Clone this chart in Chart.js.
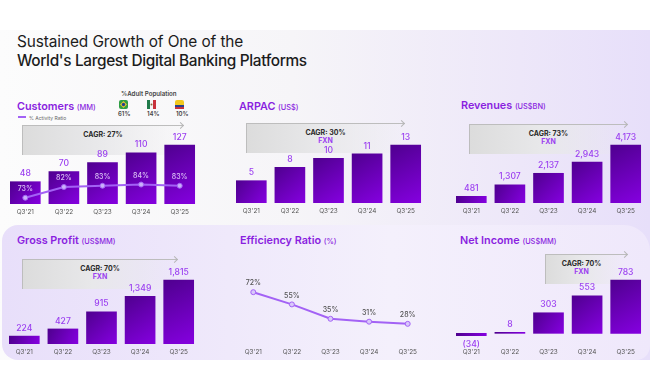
<!DOCTYPE html>
<html>
<head>
<meta charset="utf-8">
<script src="https://cdn.jsdelivr.net/npm/chart.js@4"></script>
<style>
  html, body { margin: 0; padding: 0; background: #fff; }
  #page { position: relative; width: 650px; height: 390px; overflow: hidden; font-family: Inter, sans-serif; }
  #page > * { position: absolute; }
  #band { left: 0; top: 30px; width: 650px; height: 330px; background: linear-gradient(90deg, #fcfcfc 0%, #f6f5f8 45%, #ede7f9 80%, #e7dffa 100%); }
  #panel { left: 2px; top: 225px; width: 648px; height: 135px; border-radius: 16px 26px 14px 16px; background: linear-gradient(90deg, #e8dffa 0%, #efe9fb 35%, #f4f0fc 60%, #efe8fb 100%); }
  .head { color: #1c1c1c; font-size: 15.4px; line-height: 19px; white-space: nowrap; letter-spacing: -0.1px; }
  .name { color: #8a1fe0; font-size: 10.8px; font-weight: 600; white-space: nowrap; line-height: 14px; }
  .name small { font-size: 7.4px; font-weight: 500; }
  .cagr { border-left: 1px solid #bdbdbd; border-top: 1px solid #bdbdbd; background: linear-gradient(90deg, #dcdcdc 0%, #e8e8ea 45%, rgba(240,240,244,0) 100%); box-sizing: border-box; }
  .cagr::after { content: ""; position: absolute; right: 0; top: -3px; width: 4px; height: 4px; border-top: 1px solid #b5b5b5; border-right: 1px solid #b5b5b5; transform: rotate(45deg); }
  .cagr div { position: absolute; left: 0; right: 0; text-align: center; font-size: 7px; line-height: 8px; font-weight: 700; color: #2b2b2b; }
  .cagr div + div { color: #9b3ff0; }
  .small { font-size: 6px; line-height: 8px; color: #444; white-space: nowrap; font-weight: 600; }
  canvas { position: absolute; }
</style>
</head>
<body>
<div id="page">
  <div id="band"></div>
  <div id="panel"></div>

  <div class="head" style="left:17px;top:32px">Sustained Growth of One of the</div>
  <div class="head" style="left:17px;top:51px;font-weight:500;letter-spacing:-0.35px">World's Largest Digital Banking Platforms</div>

  <div class="name" style="left:17px;top:100px">Customers <small>(MM)</small></div>
  <div class="name" style="left:239px;top:100px">ARPAC <small>(US$)</small></div>
  <div class="name" style="left:461px;top:99px">Revenues <small>(US$BN)</small></div>
  <div class="name" style="left:17px;top:234px">Gross Profit <small>(US$MM)</small></div>
  <div class="name" style="left:240px;top:234px">Efficiency Ratio <small>(%)</small></div>
  <div class="name" style="left:460px;top:234px">Net Income <small>(US$MM)</small></div>

  <div style="left:18px;top:116px;width:8px;height:2px;background:#a362f5"></div>
  <div class="small" style="left:29px;top:114px;font-size:5px;font-weight:400;color:#666">% Activity Ratio</div>

  <div class="small" style="left:121px;top:90px;font-size:6.2px">%Adult Population</div>
  <svg style="left:119px;top:100px" width="9" height="9" viewBox="0 0 9 9"><rect width="9" height="9" rx="2" fill="#2f9e44"/><path d="M4.5 1 8 4.5 4.5 8 1 4.5z" fill="#e8c62e"/><circle cx="4.5" cy="4.5" r="1.7" fill="#23408f"/></svg>
  <svg style="left:147px;top:100px" width="9" height="9" viewBox="0 0 9 9"><rect width="3" height="9" fill="#1f7a4a"/><rect x="3" width="3" height="9" fill="#f4f4f4"/><rect x="6" width="3" height="9" fill="#c8323c"/><circle cx="4.5" cy="4.5" r="1" fill="#8a6a3a"/></svg>
  <svg style="left:175px;top:100px" width="9" height="9" viewBox="0 0 9 9"><rect width="9" height="9" rx="2" fill="#f2c81e"/><rect y="5" width="9" height="2" fill="#27408f"/><rect y="7" width="9" height="2" fill="#c8323c"/></svg>
  <div class="small" style="left:118px;top:110px">61%</div>
  <div class="small" style="left:147px;top:110px">14%</div>
  <div class="small" style="left:176px;top:110px">10%</div>

  <div class="cagr" style="left:22px;top:125px;width:161px;height:30px"><div style="top:5px">CAGR: 27%</div></div>
  <div class="cagr" style="left:246px;top:123px;width:158px;height:30px"><div style="top:5px">CAGR: 30%</div><div style="top:13px">FXN</div></div>
  <div class="cagr" style="left:469px;top:124px;width:158px;height:30px"><div style="top:5px">CAGR: 73%</div><div style="top:13px">FXN</div></div>
  <div class="cagr" style="left:22px;top:259px;width:155px;height:30px"><div style="top:5px">CAGR: 70%</div><div style="top:13px">FXN</div></div>
  <div class="cagr" style="left:545px;top:254px;width:82px;height:30px"><div style="top:5px;right:10px">CAGR: 70%</div><div style="top:13px;right:10px">FXN</div></div>

  <canvas id="customers" width="193" height="100" style="left:6px;top:120px"></canvas>
  <canvas id="arpac" width="193" height="100" style="left:232px;top:119px"></canvas>
  <canvas id="revenues" width="193" height="100" style="left:452px;top:119px"></canvas>
  <canvas id="gross" width="193" height="100" style="left:5px;top:260px"></canvas>
  <canvas id="efficiency" width="193" height="100" style="left:234px;top:260px"></canvas>
  <canvas id="netIncome" width="193" height="100" style="left:452px;top:260px"></canvas>
</div>

<script>
var quarters = ["Q3'21", "Q3'22", "Q3'23", "Q3'24", "Q3'25"];
var customers = [48, 70, 89, 110, 127];
var activityRatio = [73, 82, 83, 84, 83];
var arpac = [5, 8, 10, 11, 13];
var revenues = [481, 1307, 2137, 2943, 4173];
var grossProfit = [224, 427, 915, 1349, 1815];
var efficiencyRatio = [72, 55, 35, 31, 28];
var netIncome = [-34, 8, 303, 553, 783];

var FONT = 'Inter, sans-serif';
var PLOT_H = 84; // canvas height less the 16px tick strip

// value labels, there is no datalabels plugin here
var valueLabels = {
  id: 'valueLabels',
  afterDatasetsDraw: function (chart) {
    var c = chart.ctx;
    chart.data.datasets.forEach(function (ds, i) {
      chart.getDatasetMeta(i).data.forEach(function (el, j) {
        var v = ds.data[j];
        var text = ds.suffix ? v + ds.suffix : (v < 0 ? '(' + (-v) + ')' : v.toLocaleString('en-US'));
        var base = chart.scales[ds.yAxisID || 'y'].getPixelForValue(0);
        c.save();
        c.font = '500 ' + (ds.labelSize || 8.6) + 'px ' + FONT;
        c.fillStyle = ds.labelColor || '#9b3ff0';
        c.textAlign = 'center';
        c.textBaseline = 'middle';
        c.fillText(text, el.x, v < 0 ? base + 11 : el.y - (ds.labelGap || 8));
        c.restore();
      });
    });
  }
};

function barFill(context) {
  var chart = context.chart;
  if (!chart.chartArea) return '#6a00b8';
  var yTop = chart.scales.y.getPixelForValue(Math.max(context.raw, 0));
  var yBot = chart.scales.y.getPixelForValue(Math.min(context.raw, 0));
  var xMid = chart.scales.x.getPixelForValue(context.dataIndex);
  var g = chart.ctx.createLinearGradient(xMid - 15, yTop, xMid + 15, yBot);
  g.addColorStop(0, '#4f008f');
  g.addColorStop(1, '#8500e0');
  return g;
}

function baseOptions(yMin, yMax) {
  return {
    responsive: false,
    animation: false,
    layout: { padding: 0, autoPadding: false },
    plugins: { legend: { display: false }, tooltip: { enabled: false } },
    scales: {
      x: {
        offset: true,
        grid: { display: false, drawTicks: false },
        border: { display: false },
        ticks: { color: '#555', font: { family: FONT, size: 6.4 }, padding: 4.5, maxRotation: 0, autoSkip: false },
        afterFit: function (s) { s.height = 16; }
      },
      y: { display: false, min: yMin, max: yMax }
    }
  };
}

function barSet(values) {
  return { type: 'bar', data: values, backgroundColor: barFill, barThickness: 30, minBarLength: 1, order: 2 };
}

// top value and how many px tall its bar is in the reference
function yMaxFor(top, px, plot) { return top * (plot || PLOT_H) / px; }

var customerOpts = baseOptions(0, yMaxFor(127, 59));
// the ratio line sits on its own hidden axis
customerOpts.scales.ratio = { axis: 'y', display: false, position: 'right', min: 67.8, max: 137.8 };
new Chart(document.getElementById('customers'), {
  plugins: [valueLabels],
  data: {
    labels: quarters,
    datasets: [barSet(customers), {
      type: 'line', data: activityRatio, yAxisID: 'ratio', suffix: '%', labelColor: 'rgba(235,220,255,.85)', labelSize: 7, labelGap: 9,
      borderColor: '#a362f5', borderWidth: 2, pointRadius: 2.5, pointBackgroundColor: '#c9b0fa', pointBorderColor: '#a362f5', pointBorderWidth: 1, order: 1
    }]
  },
  options: customerOpts
});

new Chart(document.getElementById('arpac'), {
  plugins: [valueLabels],
  data: { labels: quarters, datasets: [barSet(arpac)] },
  options: baseOptions(0, yMaxFor(13, 58))
});

new Chart(document.getElementById('revenues'), {
  plugins: [valueLabels],
  data: { labels: quarters, datasets: [barSet(revenues)] },
  options: baseOptions(0, yMaxFor(4173, 58))
});

new Chart(document.getElementById('gross'), {
  plugins: [valueLabels],
  data: { labels: quarters, datasets: [barSet(grossProfit)] },
  options: baseOptions(0, yMaxFor(1815, 64))
});

new Chart(document.getElementById('efficiency'), {
  plugins: [valueLabels],
  data: {
    labels: quarters,
    datasets: [{
      type: 'line', data: efficiencyRatio, suffix: '%', labelColor: '#555', labelSize: 7, labelGap: 9,
      borderColor: '#a362f5', borderWidth: 2, pointRadius: 2.5, pointBackgroundColor: '#d9c8fb', pointBorderColor: '#a362f5', pointBorderWidth: 1
    }]
  },
  options: baseOptions(0, 116.7)
});

var netOpts = baseOptions(-157, 1080);
new Chart(document.getElementById('netIncome'), {
  plugins: [valueLabels],
  data: { labels: quarters, datasets: [barSet(netIncome)] },
  options: netOpts
});
</script>
</body>
</html>
